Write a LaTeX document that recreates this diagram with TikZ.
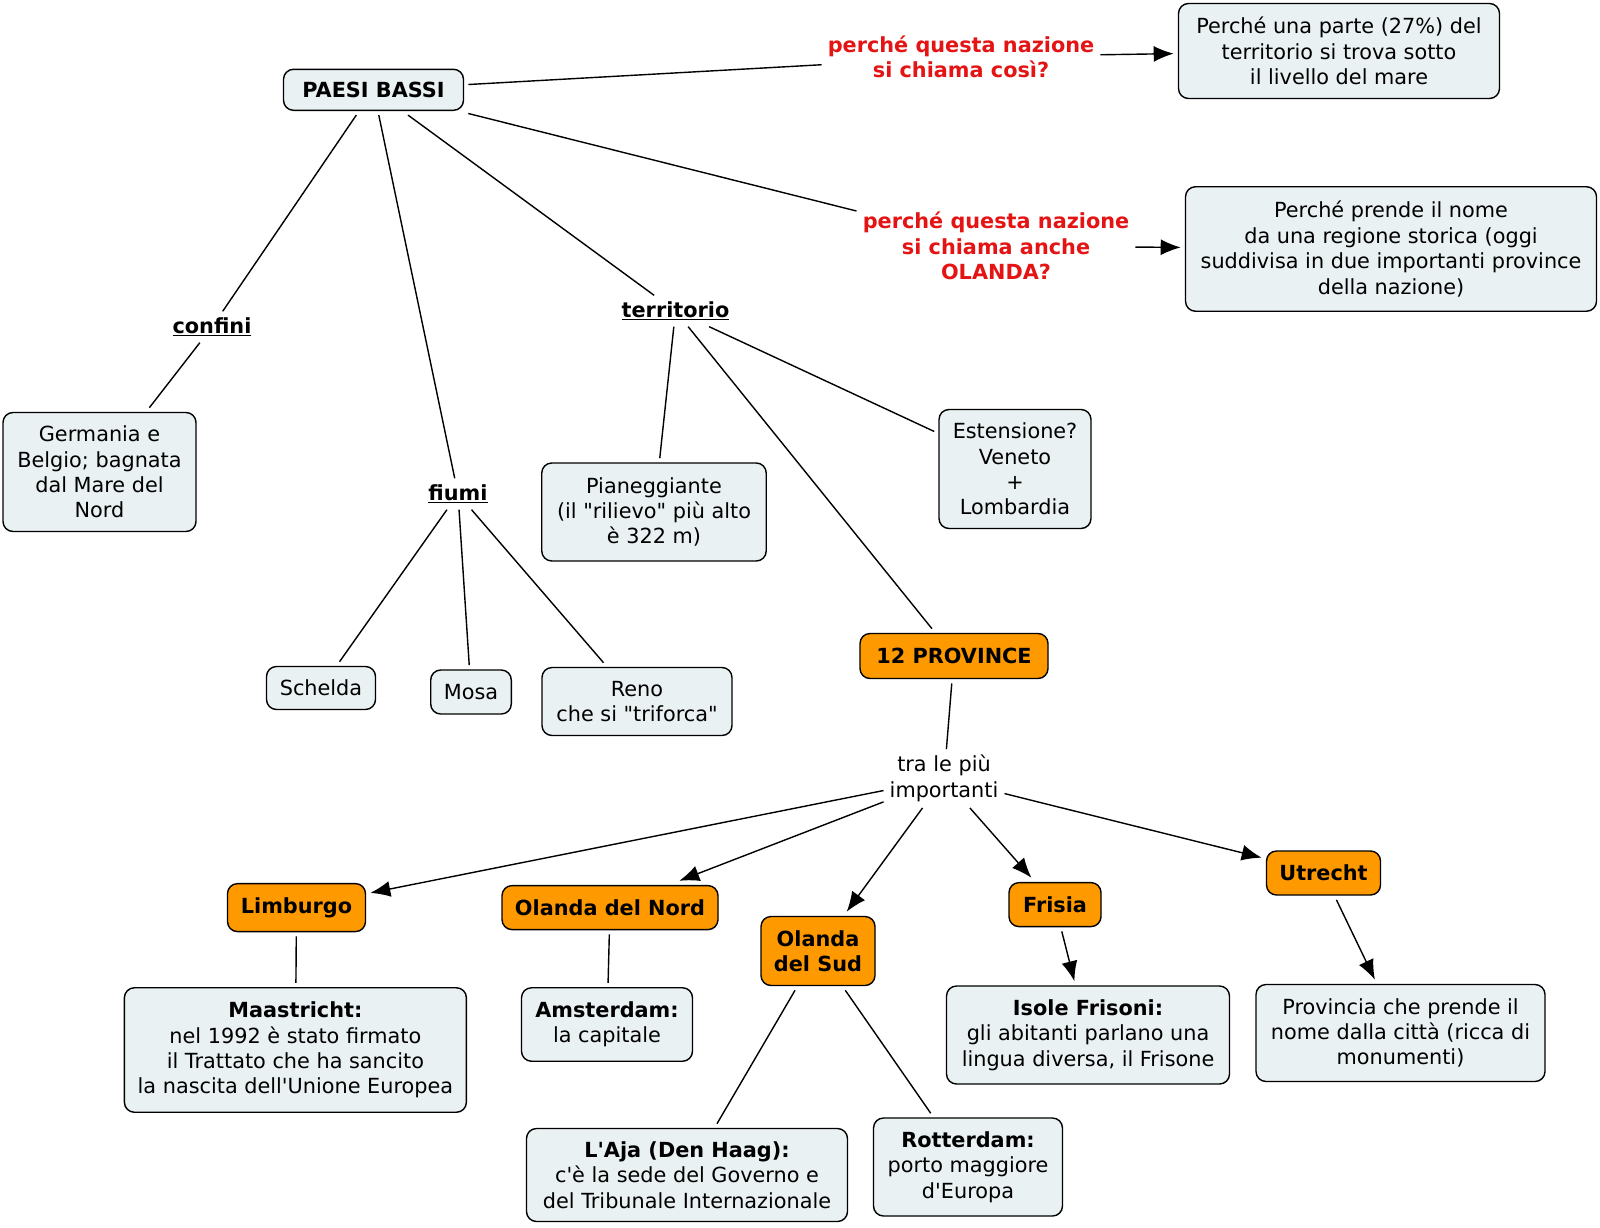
\documentclass[tikz,border=0pt]{standalone}
\usepackage{fontspec}
\setmainfont{DejaVu Sans}[Ligatures=TeXOff]
\usepackage{tikz}
\usetikzlibrary{positioning, arrows.meta}
\definecolor{cmapblue}{RGB}{234,241,243}
\definecolor{cmaporange}{RGB}{255,153,0}
\definecolor{cmapred}{RGB}{228,20,20}

\begin{document}
\begin{tikzpicture}[x=0.25mm, y=-0.25mm, line width=1pt,
		every node/.style={font=\fontsize{14.8}{18.1}\selectfont, align=center, outer sep=1.2mm},
		concept/.style={draw, line width=1pt, rounded corners=2.5mm, fill=cmapblue, inner sep=0pt},
		province/.style={concept, fill=cmaporange, font=\fontsize{14.8}{18.1}\selectfont\bfseries},
		link/.style={inner sep=1pt},
		topic/.style={link, font=\fontsize{14.8}{18.1}\selectfont\bfseries},
		question/.style={topic, text=cmapred},
		boxsize/.style 2 args={minimum width=#1*0.25mm, minimum height=#2*0.25mm},
		arr/.style={-{Latex[length=5mm,width=4mm]}}]
		
		\useasboundingbox (0,0) rectangle (1600,1227);
		
		\node[concept, boxsize={180}{41}, font=\fontsize{14.8}{18.1}\selectfont\bfseries] (paesi) at (373.5,89.8) {PAESI BASSI};
		\node[question] (nome) at (961,57) {perché questa nazione\\si chiama così?};
		\node[concept, boxsize={321}{95}] (mare) at (1339,51) {Perché una parte (27\%) del\\territorio si trova sotto\\il livello del mare};
		\node[question] (olanda) at (996,246) {perché questa nazione\\si chiama anche\\OLANDA?};
		\node[concept, boxsize={411}{124.5}] (regione) at (1391,249) {Perché prende il nome\\da una regione storica (oggi\\suddivisa in due importanti province\\della nazione)};
		
		\node[topic] (confini) at (212,327) {\underline{confini}};
		\node[concept, boxsize={193}{119}] (germania) at (99.5,472) {Germania e\\Belgio; bagnata\\dal Mare del\\Nord};
		\node[topic] (fiumi) at (458,494) {\underline{fiumi}};
		\node[concept, boxsize={109}{43}] (schelda) at (321,688) {Schelda};
		\node[concept, boxsize={80.6}{44}] (mosa) at (471,692) {Mosa};
		\node[concept, boxsize={190}{68}] (reno) at (637,701.5) {Reno\\che si "triforca"};
		\node[topic] (territorio) at (675.5,311) {\underline{territorio}};
		\node[concept, boxsize={224.5}{98}] (piano) at (654,512) {Pianeggiante\\(il "rilievo" più alto\\è 322 m)};
		\node[concept, boxsize={152}{119}] (estensione) at (1015,469) {Estensione?\\Veneto\\+\\Lombardia};
		
		\node[province, boxsize={188}{45}] (province) at (954,656) {12 PROVINCE};
		\node[link] (tra) at (944,778.5) {tra le più\\importanti};
		\node[province, boxsize={138}{48}] (limburgo) at (296.5,907.6) {Limburgo};
		\node[province, boxsize={216}{44}] (nord) at (610,907.6) {Olanda del Nord};
		\node[province, boxsize={114}{69}] (sud) at (818,951) {Olanda\\del Sud};
		\node[province, boxsize={92}{44}] (frisia) at (1055,904.6) {Frisia};
		\node[province, boxsize={114}{44}] (utrecht) at (1323.5,873) {Utrecht};
		
		\node[concept, boxsize={342}{124.5}] (maastricht) at (295.4,1050) {\textbf{Maastricht:}\\nel 1992 è stato firmato\\il Trattato che ha sancito\\la nascita dell'Unione Europea};
		\node[concept, boxsize={171}{73.5}] (amsterdam) at (607,1024.5) {\textbf{Amsterdam:}\\la capitale};
		\node[concept, boxsize={321}{93}] (aja) at (687,1175) {\textbf{L'Aja (Den Haag):}\\c'è la sede del Governo e\\del Tribunale Internazionale};
		\node[concept, boxsize={189}{98}] (rotterdam) at (968,1167) {\textbf{Rotterdam:}\\porto maggiore\\d'Europa};
		\node[concept, boxsize={283}{98}] (isole) at (1088,1035) {\textbf{Isole Frisoni:}\\gli abitanti parlano una\\lingua diversa, il Frisone};
		\node[concept, boxsize={289}{97}] (citta) at (1400.5,1033) {Provincia che prende il\\nome dalla città (ricca di\\monumenti)};
		
		\draw (paesi) -- (nome);
		\draw[arr] (nome) -- (mare);
		\draw (paesi) -- (olanda);
		\draw[arr] (olanda) -- (regione);
		\draw (paesi) -- (confini);
		\draw (confini) -- (germania);
		\draw (paesi) -- (fiumi);
		\draw (fiumi) -- (schelda);
		\draw (fiumi) -- (mosa);
		\draw (fiumi) -- (reno);
		\draw (paesi) -- (territorio);
		\draw (territorio) -- (piano);
		\draw (territorio) -- (estensione);
		\draw (territorio) -- (province);
		\draw (province) -- (tra);
		\foreach \p in {limburgo, nord, sud, frisia, utrecht}
		\draw[arr] (tra) -- (\p);
		\draw (limburgo) -- (maastricht);
		\draw (nord) -- (amsterdam);
		\draw (sud) -- (aja);
		\draw (sud) -- (rotterdam);
		\draw[arr] (frisia) -- (isole);
		\draw[arr] (utrecht) -- (citta);
		
		\end{tikzpicture}
\end{document}
